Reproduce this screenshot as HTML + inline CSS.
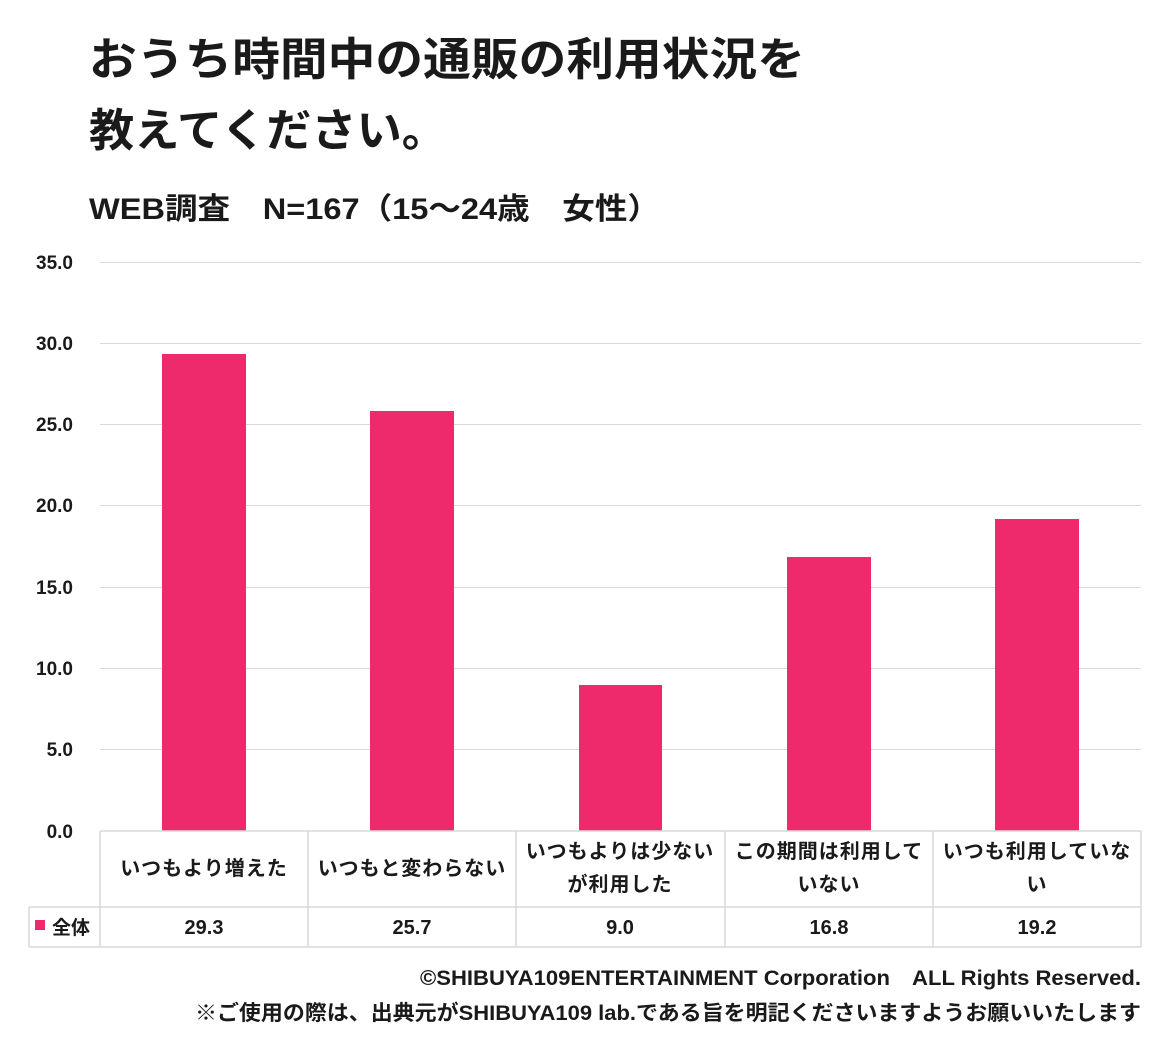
<!DOCTYPE html>
<html><head><meta charset="utf-8"><style>
body{margin:0;background:#fff;}
svg{display:block;font-family:"Liberation Sans","Noto Sans CJK JP",sans-serif;}
</style></head><body>
<svg width="1160" height="1057" viewBox="0 0 1160 1057">
<g font-weight="bold" fill="#1a1a1a">
<text x="89" y="75" font-size="45" textLength="716" lengthAdjust="spacingAndGlyphs">おうち時間中の通販の利用状況を</text>
<text x="89" y="146" font-size="45" textLength="358" lengthAdjust="spacingAndGlyphs">教えてください。</text>
<text x="89" y="219" font-size="30" textLength="571" lengthAdjust="spacingAndGlyphs">WEB調査　N=167（15～24歳　女性）</text>
</g>
<g stroke="#d9d9d9" stroke-width="1">
<line x1="100" y1="262.5" x2="1141" y2="262.5"/>
<line x1="100" y1="343.5" x2="1141" y2="343.5"/>
<line x1="100" y1="424.5" x2="1141" y2="424.5"/>
<line x1="100" y1="505.5" x2="1141" y2="505.5"/>
<line x1="100" y1="587.5" x2="1141" y2="587.5"/>
<line x1="100" y1="668.5" x2="1141" y2="668.5"/>
<line x1="100" y1="749.5" x2="1141" y2="749.5"/>
</g>
<g font-size="19" font-weight="bold" fill="#1a1a1a" text-anchor="end">
<text x="73" y="269">35.0</text><text x="73" y="350">30.0</text><text x="73" y="431">25.0</text>
<text x="73" y="512">20.0</text><text x="73" y="594">15.0</text><text x="73" y="675">10.0</text>
<text x="73" y="756">5.0</text><text x="73" y="838">0.0</text>
</g>
<g fill="#ee2a6d">
<rect x="162" y="354" width="84" height="477"/>
<rect x="370" y="411" width="84" height="420"/>
<rect x="579" y="685" width="83" height="146"/>
<rect x="787" y="557" width="84" height="274"/>
<rect x="995" y="519" width="84" height="312"/>
</g>
<g stroke="#d9d9d9" stroke-width="1.5" fill="none">
<line x1="100" y1="831" x2="1141" y2="831"/>
<line x1="29" y1="907" x2="1141" y2="907"/>
<line x1="29" y1="947" x2="1141" y2="947"/>
<line x1="29" y1="907" x2="29" y2="947"/>
<line x1="100" y1="831" x2="100" y2="947"/>
<line x1="308" y1="831" x2="308" y2="947"/>
<line x1="516" y1="831" x2="516" y2="947"/>
<line x1="725" y1="831" x2="725" y2="947"/>
<line x1="933" y1="831" x2="933" y2="947"/>
<line x1="1141" y1="831" x2="1141" y2="947"/>
</g>
<g font-size="20" font-weight="bold" fill="#1a1a1a" text-anchor="middle" letter-spacing="1">
<text x="204" y="875">いつもより増えた</text>
<text x="412" y="875">いつもと変わらない</text>
<text x="620" y="858">いつもよりは少ない</text>
<text x="620" y="891">が利用した</text>
<text x="829" y="858">この期間は利用して</text>
<text x="829" y="891">いない</text>
<text x="1037" y="858">いつも利用していな</text>
<text x="1037" y="891">い</text>
</g>
<g font-size="20" font-weight="bold" fill="#1a1a1a" text-anchor="middle">
<text x="204" y="934">29.3</text><text x="412" y="934">25.7</text><text x="620" y="934">9.0</text>
<text x="829" y="934">16.8</text><text x="1037" y="934">19.2</text>
</g>
<rect x="35" y="920" width="10" height="10" fill="#ee2a6d"/>
<text x="52" y="934" font-size="19" font-weight="bold" fill="#1a1a1a">全体</text>
<g font-size="21" font-weight="bold" fill="#1a1a1a">
<text x="420" y="985" textLength="721" lengthAdjust="spacingAndGlyphs">©SHIBUYA109ENTERTAINMENT Corporation　ALL Rights Reserved.</text>
<text x="195" y="1020" textLength="946" lengthAdjust="spacingAndGlyphs">※ご使用の際は、出典元がSHIBUYA109 lab.である旨を明記くださいますようお願いいたします</text>
</g>
</svg>
</body></html>
